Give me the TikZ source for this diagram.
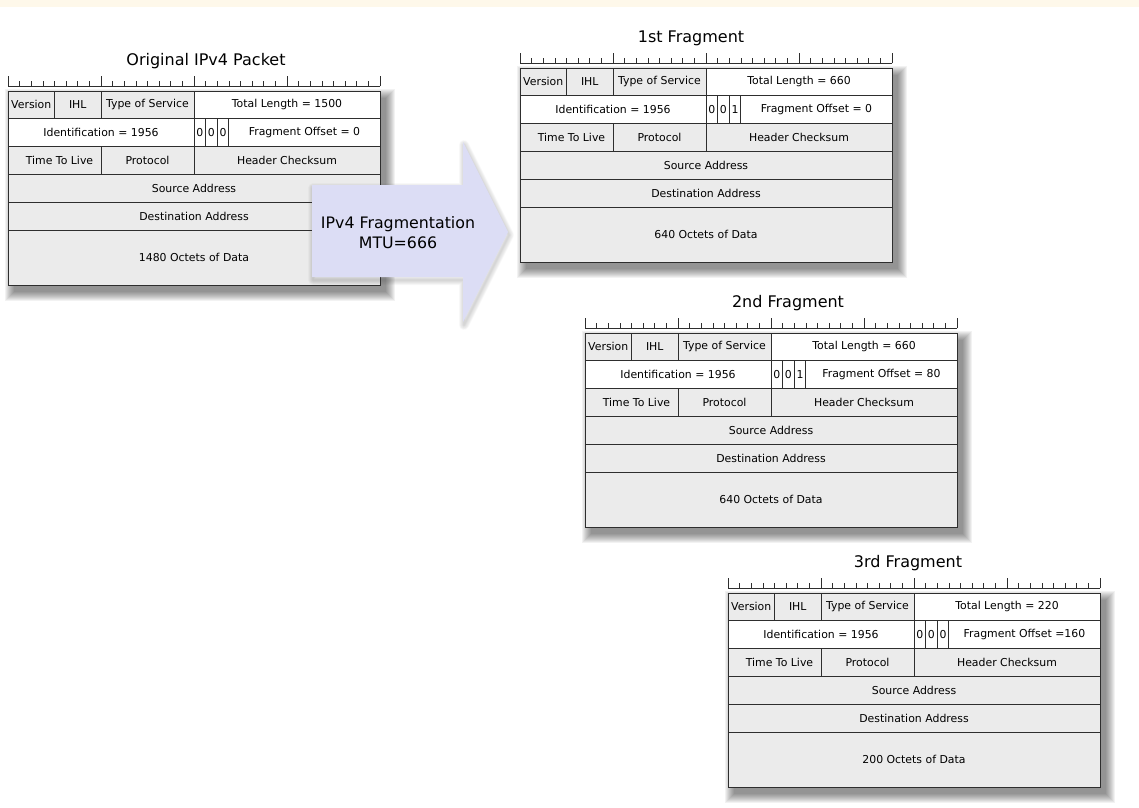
\documentclass[tikz,border=0pt]{standalone}
\usepackage{fontspec}
\setmainfont{DejaVu Sans}
\definecolor{cellgray}{HTML}{EBEBEB}
\definecolor{linec}{HTML}{2E2E2E}
\definecolor{arrowc}{HTML}{DCDDF5}
\definecolor{topband}{HTML}{FEF8EA}
\tikzset{
  cell/.style={draw=linec, line width=0.9pt, fill=cellgray, anchor=north west,
    inner sep=0pt, outer sep=0pt, font=\fontsize{10.9}{12}\selectfont, minimum height=27.8pt},
  wcell/.style={cell, fill=white},
  ptitle/.style={font=\fontsize{16}{19}\selectfont, anchor=base},
  rulerline/.style={draw=linec, line width=0.75pt},
  arrowtext/.style={font=\fontsize{15.8}{20}\selectfont, align=center},
}
% #1 name, #2 x, #3 y, #4 title, #5 title x offset, #6 total length,
% #7 third flag, #8 fragment offset text, #9 data size
\newcommand\pkt[9]{%
  % soft drop shadow
  \foreach \r in {9,...,0}{%
    \fill[black,opacity=0.05] ({#2+6-\r},{#3+7-\r}) rectangle ({#2+378+\r},{#3+201+\r});}
  % title
  \node[ptitle] (#1-title) at ({#2+186+#5},{#3-26}) {#4};
  % ruler
  \draw[rulerline] (#2,{#3-5}) -- ({#2+372},{#3-5});
  \foreach \i in {0,...,32}{\draw[rulerline] ({#2+\i*11.625},{#3-5}) -- ++(0,-5);}
  \foreach \i in {0,8,16,24,32}{\draw[rulerline] ({#2+\i*11.625},{#3-5}) -- ++(0,-10);}
  % row 1
  \node[cell, minimum width=46.5pt] (#1-ver) at (#2,#3) {Version};
  \node[cell, minimum width=46.5pt] (#1-ihl) at ({#2+46.5},#3) {IHL};
  \node[cell, minimum width=93pt] (#1-tos) at ({#2+93},#3) {Type of Service};
  \node[wcell, minimum width=186pt] (#1-tl) at ({#2+186},#3) {Total Length = #6};
  % row 2
  \node[wcell, minimum width=186pt] (#1-id) at (#2,{#3+27.8}) {Identification = 1956};
  \node[wcell, minimum width=11.625pt] (#1-fa) at ({#2+186},{#3+27.8}) {0};
  \node[wcell, minimum width=11.625pt] (#1-fb) at ({#2+197.625},{#3+27.8}) {0};
  \node[wcell, minimum width=11.625pt] (#1-fc) at ({#2+209.25},{#3+27.8}) {#7};
  \node[wcell, minimum width=151.125pt] (#1-fo) at ({#2+220.875},{#3+27.8}) {#8};
  % row 3
  \node[cell, minimum width=93pt] (#1-ttl) at (#2,{#3+55.6}) {\hspace*{10pt}Time To Live};
  \node[cell, minimum width=93pt] (#1-proto) at ({#2+93},{#3+55.6}) {Protocol};
  \node[cell, minimum width=186pt] (#1-cks) at ({#2+186},{#3+55.6}) {Header Checksum};
  % rows 4-6
  \node[cell, minimum width=372pt] (#1-src) at (#2,{#3+83.4}) {Source Address};
  \node[cell, minimum width=372pt] (#1-dst) at (#2,{#3+111.2}) {Destination Address};
  \node[cell, minimum width=372pt, minimum height=55pt] (#1-data) at (#2,{#3+139}) {#9 Octets of Data};
}
\begin{document}
\begin{tikzpicture}[x=1pt, y=-1pt]
  \useasboundingbox (0,0) rectangle (1139,807);
  \fill[white] (0,0) rectangle (1139,807);
  \fill[topband] (0,0) rectangle (1139,7);

  \pkt{orig}{8}{91}{Original IPv4 Packet}{12}{1500}{0}{Fragment Offset = 0}{1480}

  % arrow with soft glow
  \foreach \r in {10,...,1}{%
    \draw[black!70, opacity=0.025, line width=\r pt, line join=round]
      (313,188) -- (464,188) -- (464,145) -- (509,235) -- (464,325) -- (464,280) -- (313,280) -- cycle;}
  \fill[arrowc] (312,185) -- (463,185) -- (463,142) -- (508,232) -- (463,322) -- (463,277) -- (312,277) -- cycle;
  \node[arrowtext] (frag) at (398,233) {IPv4 Fragmentation\\MTU=666};

  \pkt{f1}{520}{68}{1st Fragment}{-15}{660}{1}{Fragment Offset = 0}{640}
  \pkt{f2}{585}{333}{2nd Fragment}{17}{660}{1}{Fragment Offset = 80}{640}
  \pkt{f3}{728}{593}{3rd Fragment}{-6}{220}{0}{Fragment Offset =160}{200}
\end{tikzpicture}
\end{document}
